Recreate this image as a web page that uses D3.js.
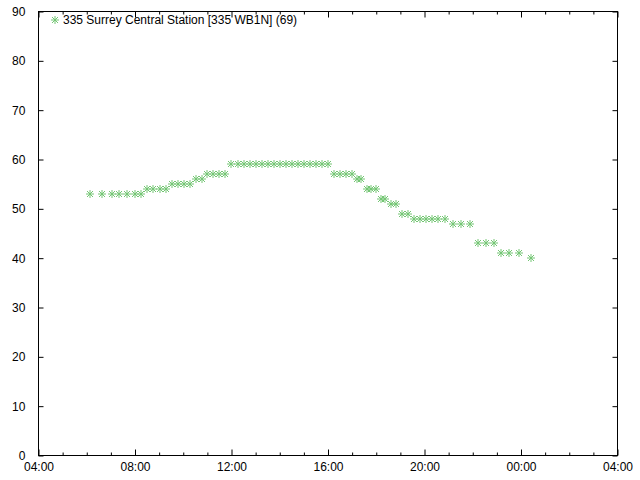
<!DOCTYPE html>
<html>
<head>
<meta charset="utf-8">
<script src="https://cdn.jsdelivr.net/npm/d3@7"></script>
<style>
	body { margin: 0; background: #fff; }
	svg { display: block; }
	text { font-family: "Liberation Sans", Arial, sans-serif; font-size: 12px; fill: #000; }
</style>
</head>
<body>
<svg id="chart" width="640" height="480"></svg>
<script>

// Data

var seriesName = "335 Surrey Central Station [335 WB1N] (69)";

var times = [
	"06:07", "06:37", "07:02", "07:21", "07:41", "08:01", "08:16",
	"08:31", "08:46", "09:01", "09:16",
	"09:31", "09:46", "10:01", "10:16",
	"10:31", "10:46",
	"11:00", "11:15", "11:30", "11:45",
	"12:00", "12:15", "12:30", "12:45", "13:00", "13:15", "13:30", "13:45", "14:00",
	"14:15", "14:30", "14:45", "15:00", "15:15", "15:30", "15:45", "16:00",
	"16:15", "16:30", "16:45", "17:00",
	"17:12", "17:23",
	"17:37", "17:48", "18:00",
	"18:13", "18:23",
	"18:36", "18:48",
	"19:03", "19:18",
	"19:33", "19:48", "20:03", "20:18", "20:33", "20:52",
	"21:12", "21:32", "21:52",
	"22:12", "22:32", "22:52",
	"23:11", "23:31", "23:56",
	"00:26"
];

var values = [
	53, 53, 53, 53, 53, 53, 53,
	54, 54, 54, 54,
	55, 55, 55, 55,
	56, 56,
	57, 57, 57, 57,
	59, 59, 59, 59, 59, 59, 59, 59, 59,
	59, 59, 59, 59, 59, 59, 59, 59,
	57, 57, 57, 57,
	56, 56,
	54, 54, 54,
	52, 52,
	51, 51,
	49, 49,
	48, 48, 48, 48, 48, 48,
	47, 47, 47,
	43, 43, 43,
	41, 41, 41,
	40
];

var xTickHours = [4, 8, 12, 16, 20, 24, 28];
var yTicks = [0, 10, 20, 30, 40, 50, 60, 70, 80, 90];

// hours since midnight, times before 04:00 belong to the next day
function toHours(s) {
	var p = s.split(":");
	var h = +p[0] + (+p[1]) / 60;
	return h < 4 ? h + 24 : h;
}

function hourLabel(h) {
	return d3.format("02d")(h % 24) + ":00";
}

var dataset = times.map(function (t, i) {
	return { t: toHours(t), v: values[i] };
});

var svg = d3.select("#chart");

var plotLeft = 38.5, plotRight = 617.5, plotTop = 11.5, plotBottom = 455.5;

var x = d3.scaleLinear().domain([4, 28]).range([plotLeft, plotRight]);
var y = d3.scaleLinear().domain([0, 90]).range([plotBottom, plotTop]);

var minorHours = d3.range(4, 29).filter(function (h) { return h % 4 != 0; });

// Minor ticks (bottom & top, inward)

svg.append("g")
.attr("transform", "translate(0," + plotBottom + ")")
.call(d3.axisBottom(x).tickValues(minorHours).tickSize(-3).tickFormat(""))
.call(function (g) { g.select(".domain").remove(); });

svg.append("g")
.attr("transform", "translate(0," + plotTop + ")")
.call(d3.axisTop(x).tickValues(minorHours).tickSize(-3).tickFormat(""))
.call(function (g) { g.select(".domain").remove(); });

// Major ticks

var xAxis = svg.append("g")
.attr("transform", "translate(0," + plotBottom + ")")
.call(d3.axisBottom(x).tickValues(xTickHours).tickSize(-6).tickPadding(13).tickFormat(hourLabel));

svg.append("g")
.attr("transform", "translate(0," + plotTop + ")")
.call(d3.axisTop(x).tickValues(xTickHours).tickSize(-6).tickFormat(""));

var yAxis = svg.append("g")
.attr("transform", "translate(" + plotLeft + ",0)")
.call(d3.axisLeft(y).tickValues(yTicks).tickSize(-5).tickPadding(12));

svg.append("g")
.attr("transform", "translate(" + plotRight + ",0)")
.call(d3.axisRight(y).tickValues(yTicks).tickSize(-5).tickFormat(""));

svg.selectAll(".tick line").attr("stroke", "#000");
svg.selectAll(".domain").remove();
svg.selectAll(".tick text")
.style("font-family", "Liberation Sans, Arial, sans-serif")
.style("font-size", "12px")
.attr("fill", "#000");

xAxis.selectAll(".tick text").attr("dy", "0.2em");
yAxis.selectAll(".tick text").attr("dx", "-0.1em");

// Border

svg.append("rect")
.attr("x", plotLeft)
.attr("y", plotTop)
.attr("width", plotRight - plotLeft)
.attr("height", plotBottom - plotTop)
.attr("fill", "none")
.attr("stroke", "#000")
.attr("stroke-width", 1);

// Asterisk markers

var color = "#74c674";
var star = "M-4,0H4M0,-4V4M-3,-3L3,3M-3,3L3,-3";

svg.append("g")
.selectAll("path")
.data(dataset)
.enter().append("path")
.attr("d", star)
.attr("fill", "none")
.attr("stroke", color)
.attr("stroke-width", 1)
.attr("transform", function (d) {
	return "translate(" + Math.round(x(d.t)) + "," + Math.round(y(d.v)) + ")";
});

// Legend

var legend = svg.append("g").attr("transform", "translate(55,20)");

legend.append("path")
.attr("d", star)
.attr("fill", "none")
.attr("stroke", color);

legend.append("text")
.attr("x", 8)
.attr("y", 4)
.text(seriesName);

</script>
</body>
</html>
